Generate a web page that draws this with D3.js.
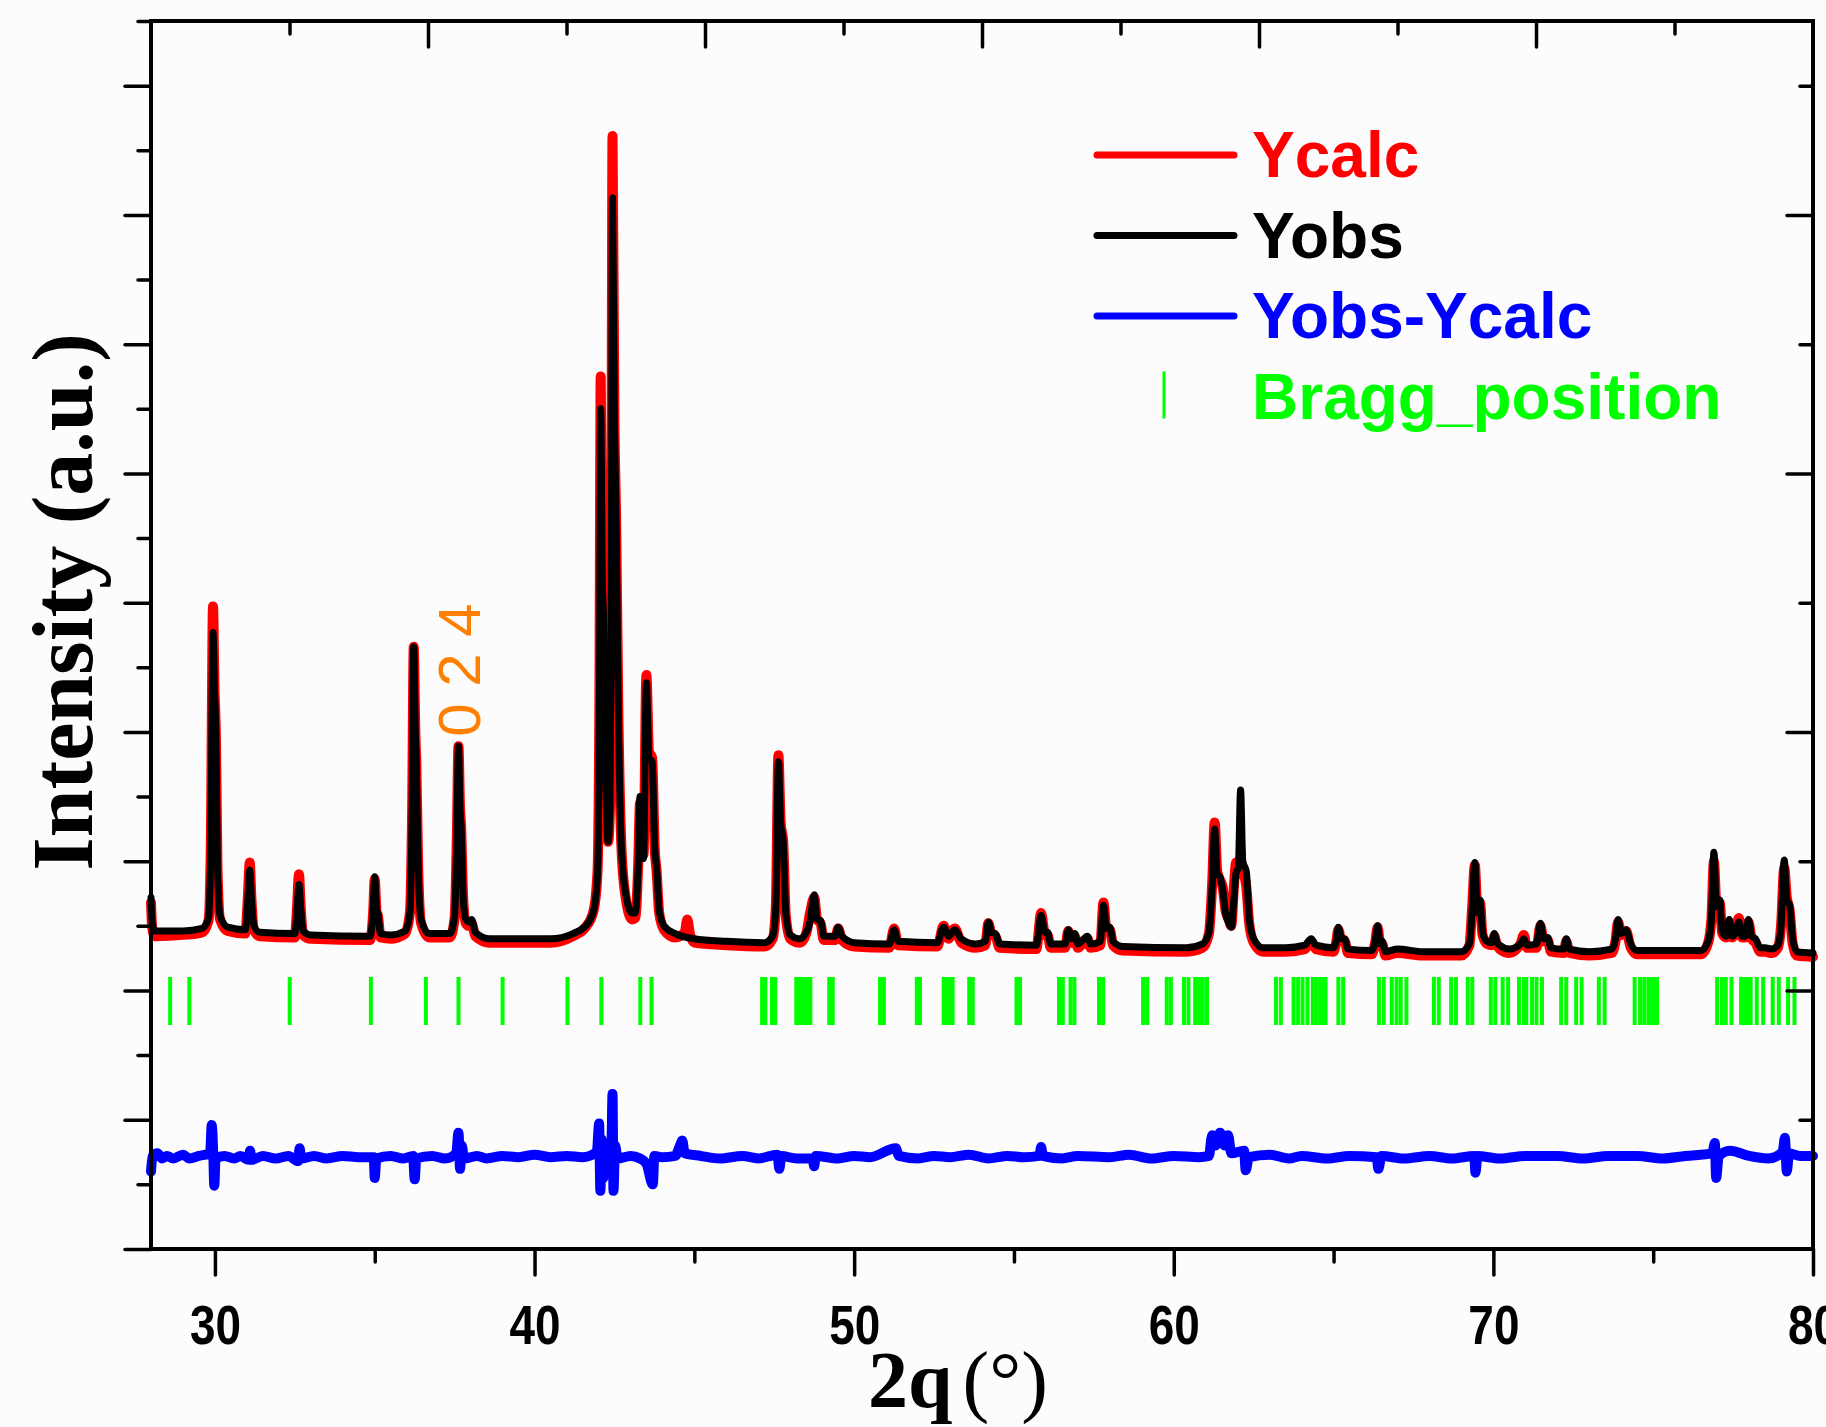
<!DOCTYPE html>
<html>
<head>
<meta charset="utf-8">
<script src="https://cdn.jsdelivr.net/npm/d3@7"></script>
<style>
    body { margin: 0; background: #fcfcfc; }
    svg { display: block; }
</style>
</head>
<body>
<div id="chart"></div>
<script>
// observed profile (black)
var yobs = [[28.00,2.72],[28.04,2.52],[28.12,2.46],[29.00,2.46],[29.60,2.48],[29.80,2.56],[29.87,3.10],[29.94,4.77],[29.99,4.30],[30.03,3.98],[30.08,2.95],[30.16,2.58],[30.40,2.49],[30.95,2.47],[31.03,2.70],[31.09,2.93],[31.14,2.72],[31.22,2.50],[31.40,2.45],[32.50,2.44],[32.57,2.62],[32.63,2.82],[32.68,2.65],[32.76,2.46],[33.00,2.43],[34.85,2.42],[34.95,2.62],[35.00,2.88],[35.06,2.62],[35.10,2.60],[35.18,2.44],[35.50,2.43],[35.95,2.46],[36.10,2.60],[36.17,3.40],[36.22,4.66],[36.27,4.00],[36.30,3.77],[36.36,2.95],[36.45,2.55],[36.70,2.44],[37.35,2.44],[37.50,2.58],[37.57,3.20],[37.62,3.89],[37.67,3.40],[37.70,3.28],[37.77,2.70],[37.85,2.55],[37.95,2.53],[38.03,2.55],[38.15,2.45],[38.60,2.40],[40.50,2.40],[41.20,2.44],[41.60,2.50],[41.85,2.62],[41.97,2.90],[42.03,4.20],[42.07,6.50],[42.12,5.20],[42.16,4.87],[42.22,3.80],[42.30,3.15],[42.36,3.40],[42.40,5.00],[42.44,8.13],[42.50,6.40],[42.55,5.69],[42.62,4.20],[42.72,3.10],[42.85,2.75],[43.05,2.60],[43.15,2.60],[43.24,2.95],[43.30,3.50],[43.36,3.40],[43.41,3.02],[43.50,4.38],[43.58,3.80],[43.68,3.77],[43.76,3.10],[43.82,2.95],[43.90,2.62],[44.05,2.50],[44.40,2.44],[45.00,2.40],[46.00,2.38],[47.20,2.37],[47.45,2.42],[47.55,2.65],[47.63,3.77],[47.70,3.30],[47.78,3.15],[47.86,2.60],[48.00,2.43],[48.30,2.40],[48.50,2.45],[48.62,2.53],[48.75,2.74],[48.84,2.55],[48.95,2.54],[49.05,2.42],[49.40,2.42],[49.50,2.49],[49.62,2.42],[50.00,2.37],[51.10,2.36],[51.25,2.47],[51.38,2.38],[52.60,2.37],[52.80,2.49],[52.95,2.42],[53.15,2.47],[53.35,2.40],[53.80,2.36],[54.10,2.38],[54.20,2.53],[54.30,2.45],[54.42,2.44],[54.55,2.36],[55.70,2.35],[55.85,2.58],[55.97,2.45],[56.05,2.45],[56.15,2.36],[56.60,2.36],[56.70,2.47],[56.80,2.40],[56.90,2.44],[57.00,2.36],[57.30,2.42],[57.40,2.36],[57.70,2.38],[57.80,2.66],[57.90,2.48],[58.00,2.49],[58.10,2.38],[58.40,2.34],[60.40,2.33],[60.90,2.36],[61.10,2.45],[61.20,2.80],[61.28,3.25],[61.36,2.90],[61.44,2.88],[61.53,2.78],[61.62,2.60],[61.72,2.52],[61.80,2.49],[61.88,2.70],[61.95,2.91],[62.02,2.95],[62.09,3.55],[62.16,3.00],[62.27,2.92],[62.36,2.55],[62.50,2.40],[62.80,2.33],[63.50,2.33],[64.10,2.35],[64.30,2.40],[64.45,2.35],[65.00,2.33],[65.08,2.38],[65.15,2.49],[65.25,2.40],[65.35,2.40],[65.45,2.32],[66.20,2.31],[66.30,2.38],[66.38,2.50],[66.46,2.36],[66.52,2.38],[66.62,2.30],[67.00,2.32],[67.80,2.30],[69.00,2.30],[69.25,2.36],[69.33,2.60],[69.42,2.99],[69.50,2.60],[69.58,2.70],[69.66,2.45],[69.80,2.38],[69.95,2.37],[70.03,2.44],[70.10,2.38],[70.20,2.35],[70.50,2.32],[70.85,2.36],[70.95,2.40],[71.05,2.35],[71.35,2.36],[71.47,2.52],[71.58,2.40],[71.70,2.41],[71.80,2.33],[72.20,2.32],[72.28,2.40],[72.38,2.32],[73.00,2.30],[73.70,2.32],[73.82,2.40],[73.90,2.55],[74.00,2.44],[74.15,2.47],[74.30,2.36],[74.50,2.31],[76.50,2.31],[76.72,2.38],[76.82,2.55],[76.90,3.07],[76.98,2.65],[77.08,2.70],[77.16,2.45],[77.28,2.42],[77.38,2.55],[77.48,2.42],[77.58,2.45],[77.68,2.53],[77.78,2.42],[77.88,2.42],[77.98,2.55],[78.08,2.42],[78.20,2.40],[78.35,2.33],[78.50,2.33],[78.70,2.32],[78.90,2.35],[79.00,2.50],[79.10,3.01],[79.18,2.70],[79.27,2.66],[79.36,2.40],[79.50,2.30],[80.00,2.29]];

// calculated profile (red)
var ycalc = [[28.00,2.68],[28.04,2.48],[28.12,2.42],[29.00,2.43],[29.60,2.45],[29.80,2.54],[29.87,3.10],[29.94,4.97],[29.99,4.30],[30.03,3.98],[30.08,2.95],[30.16,2.55],[30.40,2.46],[30.95,2.44],[31.03,2.72],[31.09,2.99],[31.14,2.72],[31.22,2.47],[31.40,2.42],[32.50,2.41],[32.57,2.65],[32.63,2.90],[32.68,2.66],[32.76,2.43],[33.00,2.40],[34.85,2.39],[34.95,2.60],[35.00,2.86],[35.06,2.60],[35.10,2.58],[35.18,2.41],[35.50,2.40],[35.95,2.44],[36.10,2.60],[36.17,3.40],[36.22,4.66],[36.27,4.00],[36.30,3.77],[36.36,2.95],[36.45,2.52],[36.70,2.41],[37.35,2.41],[37.50,2.56],[37.57,3.20],[37.62,3.89],[37.67,3.40],[37.70,3.28],[37.77,2.70],[37.85,2.52],[37.95,2.50],[38.03,2.52],[38.15,2.42],[38.60,2.37],[40.50,2.37],[41.20,2.42],[41.60,2.49],[41.85,2.62],[41.97,2.92],[42.03,4.30],[42.07,6.75],[42.12,5.30],[42.16,5.02],[42.22,3.85],[42.30,3.15],[42.36,3.40],[42.40,5.10],[42.44,8.61],[42.50,6.40],[42.55,5.69],[42.62,4.20],[42.72,3.10],[42.85,2.72],[43.05,2.55],[43.15,2.56],[43.24,2.95],[43.30,3.45],[43.36,3.40],[43.41,3.05],[43.50,4.44],[43.58,3.85],[43.68,3.80],[43.76,3.10],[43.82,2.92],[43.90,2.60],[44.05,2.47],[44.40,2.41],[44.70,2.45],[44.78,2.55],[44.86,2.44],[45.00,2.37],[46.00,2.35],[47.20,2.34],[47.45,2.40],[47.55,2.65],[47.63,3.82],[47.70,3.30],[47.78,3.15],[47.86,2.58],[48.00,2.40],[48.30,2.37],[48.50,2.44],[48.62,2.60],[48.75,2.72],[48.84,2.55],[48.95,2.52],[49.05,2.39],[49.40,2.39],[49.50,2.48],[49.62,2.39],[50.00,2.34],[51.10,2.33],[51.25,2.48],[51.38,2.35],[52.60,2.34],[52.80,2.50],[52.95,2.40],[53.15,2.48],[53.35,2.37],[53.80,2.33],[54.10,2.35],[54.20,2.52],[54.30,2.43],[54.42,2.42],[54.55,2.33],[55.70,2.32],[55.85,2.60],[55.97,2.43],[56.05,2.43],[56.15,2.33],[56.60,2.33],[56.70,2.46],[56.80,2.37],[56.90,2.42],[57.00,2.33],[57.30,2.40],[57.40,2.33],[57.70,2.35],[57.80,2.68],[57.90,2.46],[58.00,2.47],[58.10,2.35],[58.40,2.31],[60.40,2.30],[60.90,2.33],[61.10,2.44],[61.20,2.82],[61.28,3.30],[61.36,2.92],[61.44,2.86],[61.53,2.80],[61.62,2.62],[61.72,2.55],[61.80,2.50],[61.88,2.80],[61.95,2.99],[62.02,2.90],[62.09,2.95],[62.16,2.92],[62.27,2.80],[62.36,2.52],[62.50,2.37],[62.80,2.30],[63.50,2.30],[64.10,2.32],[64.30,2.38],[64.45,2.32],[65.00,2.30],[65.08,2.37],[65.15,2.47],[65.25,2.38],[65.35,2.38],[65.45,2.29],[66.20,2.28],[66.30,2.37],[66.38,2.49],[66.46,2.34],[66.52,2.36],[66.62,2.27],[67.00,2.29],[67.80,2.27],[69.00,2.27],[69.25,2.35],[69.33,2.62],[69.42,2.97],[69.50,2.62],[69.58,2.68],[69.66,2.43],[69.80,2.36],[69.95,2.35],[70.03,2.42],[70.10,2.36],[70.20,2.32],[70.50,2.29],[70.85,2.36],[70.95,2.43],[71.05,2.33],[71.35,2.33],[71.47,2.50],[71.58,2.38],[71.70,2.39],[71.80,2.30],[72.20,2.29],[72.28,2.38],[72.38,2.29],[73.00,2.27],[73.70,2.29],[73.82,2.38],[73.90,2.53],[74.00,2.43],[74.15,2.46],[74.30,2.33],[74.50,2.28],[76.50,2.28],[76.72,2.37],[76.82,2.55],[76.90,3.00],[76.98,2.66],[77.08,2.68],[77.16,2.44],[77.28,2.41],[77.38,2.53],[77.48,2.41],[77.58,2.45],[77.68,2.56],[77.78,2.41],[77.88,2.41],[77.98,2.53],[78.08,2.40],[78.20,2.37],[78.35,2.30],[78.50,2.30],[78.70,2.29],[78.90,2.33],[79.00,2.50],[79.10,2.95],[79.18,2.72],[79.27,2.62],[79.36,2.37],[79.50,2.27],[80.00,2.26]];

// difference curve (blue)
var ydiff = [[28.00,0.60],[28.05,0.72],[28.20,0.74],[28.35,0.70],[28.50,0.72],[28.70,0.70],[29.00,0.73],[29.20,0.70],[29.50,0.72],[29.85,0.74],[29.90,0.96],[29.95,0.72],[29.98,0.49],[30.02,0.70],[30.30,0.72],[30.60,0.70],[30.80,0.72],[31.05,0.69],[31.10,0.76],[31.15,0.69],[31.50,0.72],[31.90,0.70],[32.30,0.72],[32.60,0.68],[32.65,0.78],[32.70,0.70],[33.10,0.72],[33.50,0.70],[34.00,0.72],[34.50,0.71],[34.97,0.71],[35.00,0.55],[35.05,0.70],[35.50,0.72],[35.90,0.70],[36.20,0.72],[36.25,0.54],[36.30,0.70],[36.80,0.72],[37.20,0.70],[37.55,0.74],[37.62,0.90],[37.67,0.62],[37.72,0.80],[37.80,0.70],[38.20,0.72],[38.50,0.70],[39.00,0.72],[39.50,0.71],[40.00,0.73],[40.50,0.71],[41.00,0.72],[41.50,0.71],[41.95,0.75],[42.02,0.97],[42.06,0.45],[42.10,0.85],[42.15,0.55],[42.25,0.72],[42.40,0.73],[42.44,1.20],[42.47,0.45],[42.52,0.80],[42.60,0.70],[43.00,0.72],[43.30,0.70],[43.50,0.66],[43.70,0.50],[43.75,0.72],[44.00,0.71],[44.40,0.72],[44.55,0.80],[44.62,0.84],[44.70,0.74],[45.20,0.72],[45.80,0.70],[46.50,0.72],[47.00,0.70],[47.60,0.73],[47.66,0.62],[47.72,0.72],[48.20,0.70],[48.70,0.70],[48.75,0.64],[48.80,0.72],[49.50,0.70],[50.00,0.72],[50.50,0.71],[51.30,0.78],[51.40,0.72],[52.00,0.70],[52.50,0.72],[53.00,0.71],[53.60,0.73],[54.20,0.70],[54.80,0.72],[55.30,0.71],[55.80,0.72],[55.85,0.79],[55.90,0.72],[56.50,0.70],[57.00,0.72],[58.00,0.71],[58.60,0.73],[59.30,0.70],[60.00,0.72],[60.80,0.71],[61.10,0.72],[61.20,0.88],[61.30,0.80],[61.45,0.90],[61.60,0.80],[61.70,0.88],[61.80,0.74],[62.20,0.76],[62.25,0.61],[62.35,0.71],[63.00,0.73],[63.60,0.70],[64.00,0.72],[64.80,0.70],[65.50,0.72],[66.35,0.71],[66.40,0.62],[66.50,0.72],[67.20,0.70],[68.00,0.72],[68.70,0.70],[69.40,0.72],[69.44,0.59],[69.50,0.72],[70.20,0.70],[71.00,0.72],[72.00,0.72],[72.80,0.70],[73.60,0.72],[74.50,0.72],[75.30,0.70],[76.00,0.72],[76.85,0.74],[76.93,0.82],[76.97,0.55],[77.05,0.72],[77.40,0.76],[78.00,0.72],[78.60,0.70],[79.05,0.75],[79.12,0.86],[79.18,0.60],[79.25,0.74],[79.60,0.72],[80.00,0.72]];

// reflection positions (green ticks)
var bragg = [28.60,29.20,32.34,34.88,36.60,37.62,39.00,41.03,42.09,43.31,43.66,
    47.12,47.22,47.43,47.53,48.19,48.28,48.37,48.46,48.55,48.63,49.22,49.33,50.81,50.93,51.96,52.06,
    52.80,52.90,53.00,53.08,53.60,53.71,55.08,55.19,56.41,56.53,56.77,56.89,57.66,57.79,59.04,59.17,
    59.78,59.91,60.32,60.46,60.67,60.79,60.91,61.04,
    63.20,63.35,63.75,63.89,64.03,64.18,64.35,64.46,64.58,64.67,64.75,65.15,65.30,66.42,66.57,66.82,66.97,
    67.10,67.28,68.14,68.29,68.68,68.83,69.20,69.34,69.92,70.06,70.29,70.46,70.80,70.95,71.03,71.21,71.35,
    71.52,72.12,72.28,72.59,72.76,73.30,73.48,74.42,74.59,74.72,74.85,74.93,75.03,75.12,
    77.00,77.15,77.27,77.45,77.75,77.86,77.95,78.05,78.24,78.44,78.74,78.93,79.22,79.42];

var xMajor = [30, 40, 50, 60, 70, 80];
var xMinor = [35, 45, 55, 65, 75];
var legendItems = ["Ycalc", "Yobs", "Yobs-Ycalc", "Bragg_position"];
var legendColors = ["#ff0000", "#000000", "#0000ff", "#00ff00"];

(function () {
    var W = 1826, H = 1427;
    var m = {left: 151, right: 1813, top: 21, bottom: 1249};

    var svg = d3.select("#chart").append("svg")
        .attr("width", W).attr("height", H)
        .style("background", "#fcfcfc");

    var x = d3.scaleLinear().domain([28, 80]).range([m.left, m.right]);
    var y = d3.scaleLinear().domain([0, 9.5]).range([m.bottom, m.top]);
    // top axis has its own division (12 steps)
    var xTop = d3.scaleLinear().domain([0, 12]).range([m.left, m.right]);

    var line = d3.line()
        .curve(d3.curveMonotoneX)
        .x(function (d) { return x(d[0]); })
        .y(function (d) { return y(d[1]); });

    //Bragg ticks
    svg.append("g").selectAll("line").data(bragg).enter().append("line")
        .attr("x1", function (d) { return x(d); })
        .attr("x2", function (d) { return x(d); })
        .attr("y1", 977).attr("y2", 1025)
        .attr("stroke", "#00ff00").attr("stroke-width", 4);

    svg.append("path").datum(ycalc).attr("d", line)
        .attr("fill", "none").attr("stroke", "#ff0000").attr("stroke-width", 10)
        .attr("stroke-linejoin", "round").attr("stroke-linecap", "round");
    svg.append("path").datum(yobs).attr("d", line)
        .attr("fill", "none").attr("stroke", "#000000").attr("stroke-width", 7)
        .attr("stroke-linejoin", "round").attr("stroke-linecap", "round");
    svg.append("path").datum(ydiff).attr("d", line)
        .attr("fill", "none").attr("stroke", "#0000ff").attr("stroke-width", 10)
        .attr("stroke-linejoin", "round").attr("stroke-linecap", "round");

    // axes
    function styleAxis(g) {
        g.select(".domain").remove();
        g.selectAll(".tick line").attr("stroke", "#000").attr("stroke-width", 3.5).attr("stroke-linecap", "round");
    }
    var nolabel = function () { return ""; };

    var bx = svg.append("g").attr("transform", "translate(0," + m.bottom + ")")
        .call(d3.axisBottom(x).tickValues(xMajor).tickSize(26).tickFormat(d3.format("d")))
        .call(styleAxis);
    bx.selectAll("text")
        .attr("y", 95).attr("dy", 0)
        .attr("transform", "scale(0.82,1)")
        .attr("font-family", "'Liberation Sans', Arial, sans-serif")
        .attr("font-weight", "bold").attr("font-size", 56).attr("fill", "#000");
    svg.append("g").attr("transform", "translate(0," + m.bottom + ")")
        .call(d3.axisBottom(x).tickValues(xMinor).tickSize(13).tickFormat(nolabel))
        .call(styleAxis);

    svg.append("g").attr("transform", "translate(0," + m.top + ")")
        .call(d3.axisTop(xTop).tickValues([2, 4, 6, 8, 10]).tickSize(-26).tickFormat(nolabel))
        .call(styleAxis);
    svg.append("g").attr("transform", "translate(0," + m.top + ")")
        .call(d3.axisTop(xTop).tickValues([1, 3, 5, 7, 9, 11]).tickSize(-13).tickFormat(nolabel))
        .call(styleAxis);

    svg.append("g").attr("transform", "translate(" + m.left + ",0)")
        .call(d3.axisLeft(y).tickValues(d3.range(0, 10, 1)).tickSize(26).tickFormat(nolabel))
        .call(styleAxis);
    svg.append("g").attr("transform", "translate(" + m.left + ",0)")
        .call(d3.axisLeft(y).tickValues(d3.range(0.5, 10, 1)).tickSize(13).tickFormat(nolabel))
        .call(styleAxis);

    svg.append("g").attr("transform", "translate(" + m.right + ",0)")
        .call(d3.axisRight(y).tickValues([2, 4, 6, 8]).tickSize(-26).tickFormat(nolabel))
        .call(styleAxis);
    svg.append("g").attr("transform", "translate(" + m.right + ",0)")
        .call(d3.axisRight(y).tickValues([1, 3, 5, 7, 9]).tickSize(-13).tickFormat(nolabel))
        .call(styleAxis);

    // frame
    svg.append("rect")
        .attr("x", m.left).attr("y", m.top)
        .attr("width", m.right - m.left).attr("height", m.bottom - m.top)
        .attr("fill", "none").attr("stroke", "#000").attr("stroke-width", 4);

    // axis titles
    var xt = svg.append("text")
        .attr("x", 868).attr("y", 1407)
        .attr("font-family", "'Liberation Serif', 'Times New Roman', serif")
        .attr("font-size", 80).attr("fill", "#000");
    xt.append("tspan").attr("font-weight", "bold").text("2q");
    xt.append("tspan").attr("dx", 10).text("(°)");

    svg.append("text")
        .attr("transform", "translate(92,602) rotate(-90)")
        .attr("text-anchor", "middle")
        .attr("font-family", "'Liberation Serif', 'Times New Roman', serif")
        .attr("font-weight", "bold").attr("font-size", 86).attr("fill", "#000")
        .text("Intensity (a.u.)");

    // hkl label
    svg.append("text")
        .attr("transform", "translate(480,670) rotate(-90)")
        .attr("text-anchor", "middle")
        .attr("font-family", "'Liberation Sans', Arial, sans-serif")
        .attr("font-size", 60).attr("fill", "#ff8000")
        .text("0 2 4");

    // legend
    var legend = svg.append("g");
    legendItems.forEach(function (name, i) {
        var base = 177 + i * 80.5;
        if (i < 3) {
            legend.append("line")
                .attr("x1", 1097).attr("x2", 1234)
                .attr("y1", base - 22).attr("y2", base - 22)
                .attr("stroke", legendColors[i]).attr("stroke-width", 7).attr("stroke-linecap", "round");
        } else {
            legend.append("line")
                .attr("x1", 1164).attr("x2", 1164)
                .attr("y1", base - 47).attr("y2", base)
                .attr("stroke", legendColors[i]).attr("stroke-width", 3);
        }
        legend.append("text")
            .attr("x", 1252).attr("y", base)
            .attr("font-family", "'Liberation Sans', Arial, sans-serif")
            .attr("font-weight", "bold").attr("font-size", 64)
            .attr("fill", legendColors[i])
            .text(name);
    });
})();
</script>
</body>
</html>
